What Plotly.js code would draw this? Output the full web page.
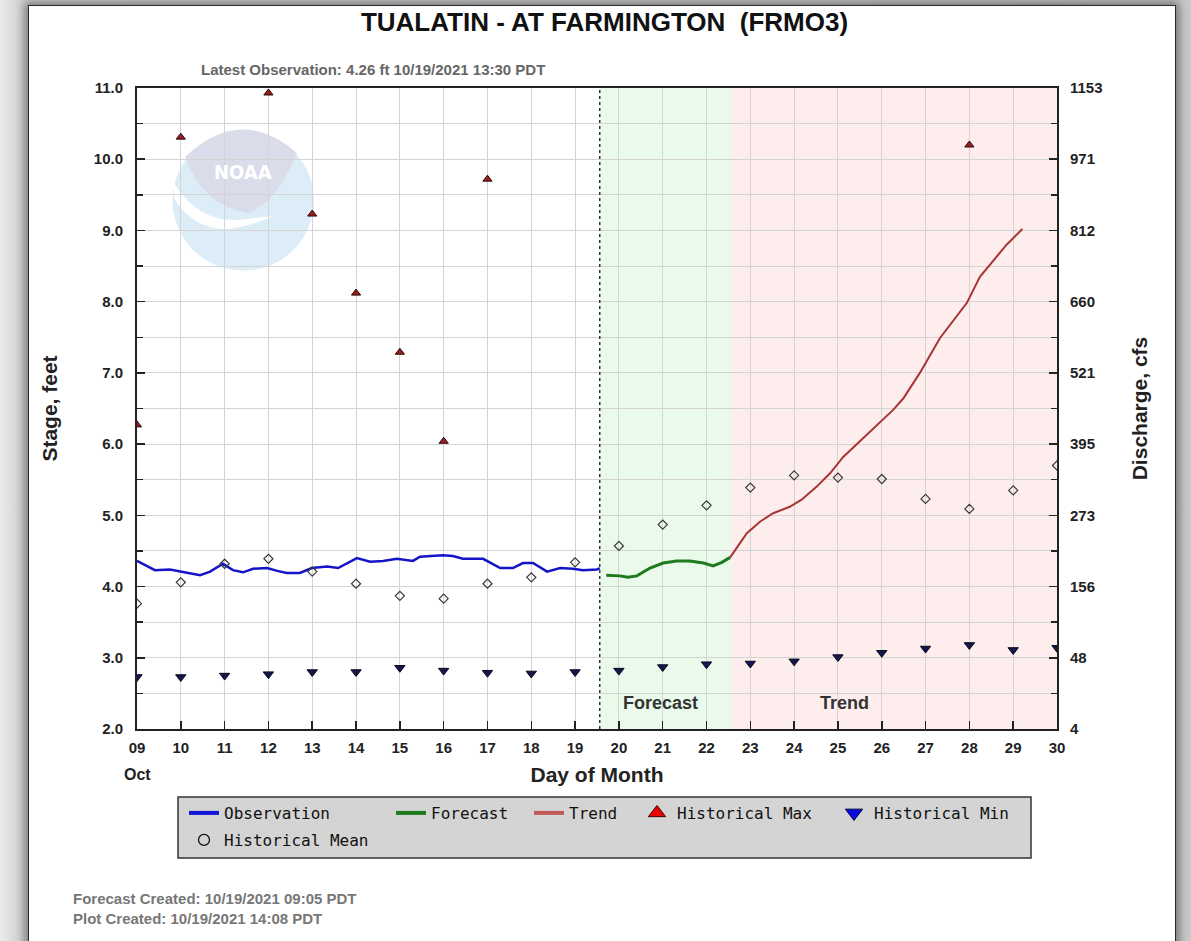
<!DOCTYPE html>
<html>
<head>
<meta charset="utf-8">
<script src="https://cdn.plot.ly/plotly-3.0.1.min.js"></script>
<style>
  html, body { margin:0; padding:0; }
  body { width:1191px; height:941px; overflow:hidden; position:relative;
         background: linear-gradient(to right, #ececec 0px, #d2d2d2 20px, #c9c9c9 100%); }
  #card { position:absolute; left:28px; top:5px; width:1146px; height:960px; background:#ffffff;
          border:1.5px solid #2a2a2a; box-shadow: 0 0 9px 3px rgba(0,0,0,0.45); }
  #plot { position:absolute; left:0; top:0; width:1191px; height:941px; }
</style>
</head>
<body>
<div id="card"></div>
<div id="plot"></div>
<script>
// ---------------- data ----------------
const dayTicks = [9,10,11,12,13,14,15,16,17,18,19,20,21,22,23,24,25,26,27,28,29,30];
const dayLabels = ['09','10','11','12','13','14','15','16','17','18','19','20','21','22','23','24','25','26','27','28','29','30'];
const stageTicks = [2,3,4,5,6,7,8,9,10,11];
const dischargeLabels = ['4','48','156','273','395','521','660','812','971','1153'];

// Observation (day of month, stage ft)
const obsDay = [9.00,9.41,9.75,9.98,10.44,10.67,10.96,11.19,11.42,11.65,11.97,12.20,12.42,12.72,12.99,13.34,13.59,14.02,14.32,14.62,14.93,15.30,15.46,15.98,16.21,16.44,16.90,17.29,17.58,17.81,18.04,18.36,18.66,18.95,19.18,19.50,19.5625];
const obsStage = [4.36,4.23,4.24,4.21,4.16,4.21,4.32,4.23,4.20,4.25,4.26,4.22,4.19,4.19,4.26,4.28,4.26,4.40,4.35,4.36,4.39,4.36,4.42,4.44,4.43,4.39,4.39,4.26,4.26,4.33,4.33,4.21,4.26,4.25,4.23,4.24,4.26];

// Forecast
const fcstDay = [19.71,20.02,20.21,20.41,20.71,21.01,21.32,21.62,21.93,22.15,22.35,22.54];
const fcstStage = [4.16,4.15,4.13,4.15,4.26,4.33,4.36,4.36,4.33,4.29,4.34,4.41];

// Trend
const trendDay = [22.54,22.75,22.92,23.22,23.52,23.90,24.17,24.51,24.82,25.12,25.50,26.04,26.26,26.49,26.87,27.33,27.94,28.24,28.85,29.21];
const trendStage = [4.41,4.60,4.75,4.91,5.03,5.12,5.22,5.40,5.59,5.82,6.04,6.36,6.48,6.64,7.00,7.49,7.98,8.35,8.80,9.02];

// Historical statistics per day (null = off the chart)
const histDay = dayTicks;
const histMax = [6.27,10.31,null,10.93,9.23,8.12,7.29,6.04,9.72,null,null,null,null,null,null,null,null,null,null,10.20,null,null];
const histMin = [2.73,2.73,2.75,2.77,2.80,2.80,2.86,2.82,2.79,2.78,2.80,2.82,2.87,2.91,2.92,2.95,3.01,3.07,3.13,3.18,3.11,3.14];
const histMean = [3.76,4.06,4.32,4.39,4.21,4.04,3.87,3.83,4.04,4.13,4.34,4.57,4.87,5.14,5.39,5.56,5.53,5.51,5.23,5.09,5.35,5.70];

const nowDay = 19.5625;      // 10/19 13:30
const forecastEnd = 22.5625;
const xStart = 9, xEnd = 30;

// ---------------- layout helpers ----------------
const W = 1191, H = 941;
const L = 137, R = 1057, T = 88, B = 729;
const px = x => (x - L) / (R - L);
const py = y => (B - y) / (B - T);
const P = (x, y) => px(x).toFixed(4) + ',' + py(y).toFixed(4);

const FONT = 'Liberation Sans, Arial, sans-serif';
const MONO = 'DejaVu Sans Mono, Liberation Mono, monospace';

const traces = [
  {x: obsDay, y: obsStage, type:'scatter', mode:'lines', line:{color:'#1414c8', width:2.5}, showlegend:false, hoverinfo:'skip'},
  {x: fcstDay, y: fcstStage, type:'scatter', mode:'lines', line:{color:'#1d7a1d', width:3}, showlegend:false, hoverinfo:'skip'},
  {x: trendDay, y: trendStage, type:'scatter', mode:'lines', line:{color:'#aa3434', width:2}, showlegend:false, hoverinfo:'skip'},
  {x: histDay, y: histMax, type:'scatter', mode:'markers', marker:{symbol:'triangle-up', size:8, color:'#9a1c1c', line:{color:'#2a0a0a', width:1}}, showlegend:false, hoverinfo:'skip'},
  {x: histDay, y: histMin, type:'scatter', mode:'markers', marker:{symbol:'triangle-down', size:9, color:'#15174a', line:{color:'#0a0a20', width:1}}, showlegend:false, hoverinfo:'skip'},
  {x: histDay, y: histMean, type:'scatter', mode:'markers', marker:{symbol:'diamond-open', size:7, color:'#3a3a3a', line:{width:1.2}}, showlegend:false, hoverinfo:'skip'},
  // legend entries
  {x:[null], y:[null], name:'Observation', type:'scatter', mode:'lines', line:{color:'#1414d8', width:4}, legend:'legend'},
  {x:[null], y:[null], name:'Forecast', type:'scatter', mode:'lines', line:{color:'#1d7a1d', width:4}, legend:'legend2'},
  {x:[null], y:[null], name:'Trend', type:'scatter', mode:'lines', line:{color:'#c05a5a', width:4}, legend:'legend3'},
  {x:[null], y:[null], name:'Historical Max', type:'scatter', mode:'markers', marker:{symbol:'triangle-up', size:15, color:'#e80000', line:{color:'#400', width:1}}, legend:'legend4'},
  {x:[null], y:[null], name:'Historical Min', type:'scatter', mode:'markers', marker:{symbol:'triangle-down', size:15, color:'#0a0ae0', line:{color:'#004', width:1}}, legend:'legend5'},
  {x:[null], y:[null], name:'Historical Mean', type:'scatter', mode:'markers', marker:{symbol:'circle-open', size:11, color:'#111', line:{width:1.3}}, legend:'legend6'},
  // right axis carrier
  {x:[xStart], y:[null], yaxis:'y2', type:'scatter', mode:'markers', showlegend:false, hoverinfo:'skip'}
];

function leg(textX, textY) {
  return {orientation:'h', x: px(textX - 40), xanchor:'left', y: py(textY), yanchor:'middle',
          bgcolor:'rgba(0,0,0,0)', borderwidth:0, font:{family:MONO, size:16, color:'#111'}};
}

const shapes = [
  // forecast and trend periods
  {type:'rect', xref:'x', yref:'paper', x0:nowDay, x1:forecastEnd, y0:0, y1:1, fillcolor:'#eafaea', line:{width:0}, layer:'below'},
  {type:'rect', xref:'x', yref:'paper', x0:forecastEnd, x1:xEnd, y0:0, y1:1, fillcolor:'#fdeded', line:{width:0}, layer:'below'},
  // NOAA watermark
  {type:'circle', xref:'paper', yref:'paper', x0:px(172.5), x1:px(314), y0:py(270.5), y1:py(130.5), fillcolor:'#dcedf8', line:{width:0}, layer:'below'},
  {type:'path', xref:'paper', yref:'paper', layer:'below', line:{width:0}, fillcolor:'#dadcea',
   path:'M' + P(185,157) + ' Q' + P(241,104) + ' ' + P(297,153) + ' Q' + P(276,204) + ' ' + P(248,213) + ' Q' + P(203,206) + ' ' + P(185,157) + ' Z'},
  {type:'path', xref:'paper', yref:'paper', layer:'below', line:{width:0}, fillcolor:'#ffffff',
   path:'M' + P(173,182) + ' Q' + P(198,222) + ' ' + P(238,220) + ' L' + P(274,216) + ' Q' + P(246,228) + ' ' + P(222,229) + ' Q' + P(190,226) + ' ' + P(174,198) + ' Z'},
  // "now" line
  {type:'line', xref:'x', yref:'paper', x0:nowDay, x1:nowDay, y0:0, y1:1, line:{color:'#333', width:1.5, dash:'dot'}},
  // legend box
  {type:'rect', xref:'paper', yref:'paper', x0:px(178), x1:px(1031), y0:py(858), y1:py(797), fillcolor:'#d4d4d4', line:{color:'#333', width:1.5}, layer:'below'}
];

const annotations = [
  {text:'<b>NOAA</b>', xref:'paper', yref:'paper', x:px(243), xanchor:'center', y:py(172), yanchor:'middle', showarrow:false, font:{family:'DejaVu Sans Condensed, Liberation Sans Narrow, sans-serif', size:20, color:'#ffffff'}},
  {text:'Latest Observation: 4.26 ft 10/19/2021 13:30 PDT', xref:'paper', yref:'paper', x:px(372.5), xanchor:'center', y:py(70), yanchor:'middle', showarrow:false, font:{family:FONT, size:15, color:'#666', weight:'bold'}},
  {text:'Oct', xref:'paper', yref:'paper', x:px(137), xanchor:'center', y:py(774), yanchor:'middle', showarrow:false, font:{family:FONT, size:16, color:'#222', weight:'bold'}},
  {text:'Forecast', xref:'x', yref:'y', x:20.96, xanchor:'center', y:2.365, yanchor:'middle', showarrow:false, font:{family:FONT, size:18, color:'#333', weight:'bold'}},
  {text:'Trend', xref:'x', yref:'y', x:25.15, xanchor:'center', y:2.365, yanchor:'middle', showarrow:false, font:{family:FONT, size:18, color:'#333', weight:'bold'}},
  {text:'Forecast Created: 10/19/2021 09:05 PDT', xref:'paper', yref:'paper', x:px(71), xanchor:'left', y:py(899), yanchor:'middle', showarrow:false, font:{family:FONT, size:15, color:'#777', weight:'bold'}},
  {text:'Plot Created: 10/19/2021 14:08 PDT', xref:'paper', yref:'paper', x:px(71), xanchor:'left', y:py(918), yanchor:'middle', showarrow:false, font:{family:FONT, size:15, color:'#777', weight:'bold'}}
];

const gridColor = '#d4d4d4';
const layout = {
  width: W, height: H,
  margin: {l: L, r: W - R, t: T, b: H - B, autoexpand: false},
  paper_bgcolor: 'rgba(0,0,0,0)',
  plot_bgcolor: '#ffffff',
  font: {family: FONT, color:'#222'},
  title: {text:'TUALATIN - AT FARMINGTON &nbsp;(FRMO3)', xref:'container', x: 604.5 / W, xanchor:'center',
          yref:'container', y: 1 - 22 / H, yanchor:'middle', font:{family:FONT, size:26, color:'#111', weight:'bold'}},
  xaxis: {range:[xStart, xEnd], tickvals: dayTicks, ticktext: dayLabels, ticks:'inside', ticklen:8, tickwidth:1.5, tickcolor:'#222',
          showgrid:true, gridcolor: gridColor, gridwidth:1, zeroline:false,
          showline:true, linecolor:'#222', linewidth:2, mirror:true,
          tickfont:{family:FONT, size:15, color:'#222', weight:'bold'}, ticklabelstandoff:4,
          title:{text:'Day of Month', font:{family:FONT, size:21, color:'#222', weight:'bold'}, standoff:12}},
  yaxis: {range:[2, 11], tickvals: stageTicks, tickformat:'.1f', ticks:'inside', ticklen:8, tickwidth:1.5, tickcolor:'#222',
          showgrid:true, gridcolor: gridColor, gridwidth:1, zeroline:false,
          showline:true, linecolor:'#222', linewidth:2, mirror:true,
          minor:{dtick:0.5, tick0:2, ticks:'inside', ticklen:6, tickcolor:'#222', showgrid:true, gridcolor:gridColor},
          tickfont:{family:FONT, size:15, color:'#222', weight:'bold'}, ticklabelstandoff:9,
          title:{text:'Stage, feet', font:{family:FONT, size:21, color:'#222', weight:'bold'}, standoff:30}},
  yaxis2: {range:[2, 11], overlaying:'y', side:'right', anchor:'x', tickvals: stageTicks, ticktext: dischargeLabels,
           ticks:'inside', ticklen:8, tickwidth:1.5, tickcolor:'#222', showgrid:false, zeroline:false, showline:false,
           minor:{dtick:0.5, tick0:2, ticks:'inside', ticklen:6, tickcolor:'#222', showgrid:false},
           tickfont:{family:FONT, size:15, color:'#222', weight:'bold'}, ticklabelstandoff:12,
           title:{text:'Discharge, cfs', font:{family:FONT, size:21, color:'#222', weight:'bold'}, standoff:30}},
  legend: leg(224, 813),
  legend2: leg(431, 813),
  legend3: leg(569, 813),
  legend4: leg(677, 813),
  legend5: leg(874, 813),
  legend6: leg(224, 840),
  shapes: shapes,
  annotations: annotations,
  hovermode: false
};

Plotly.newPlot('plot', traces, layout, {displayModeBar:false, staticPlot:true});
</script>
</body>
</html>
